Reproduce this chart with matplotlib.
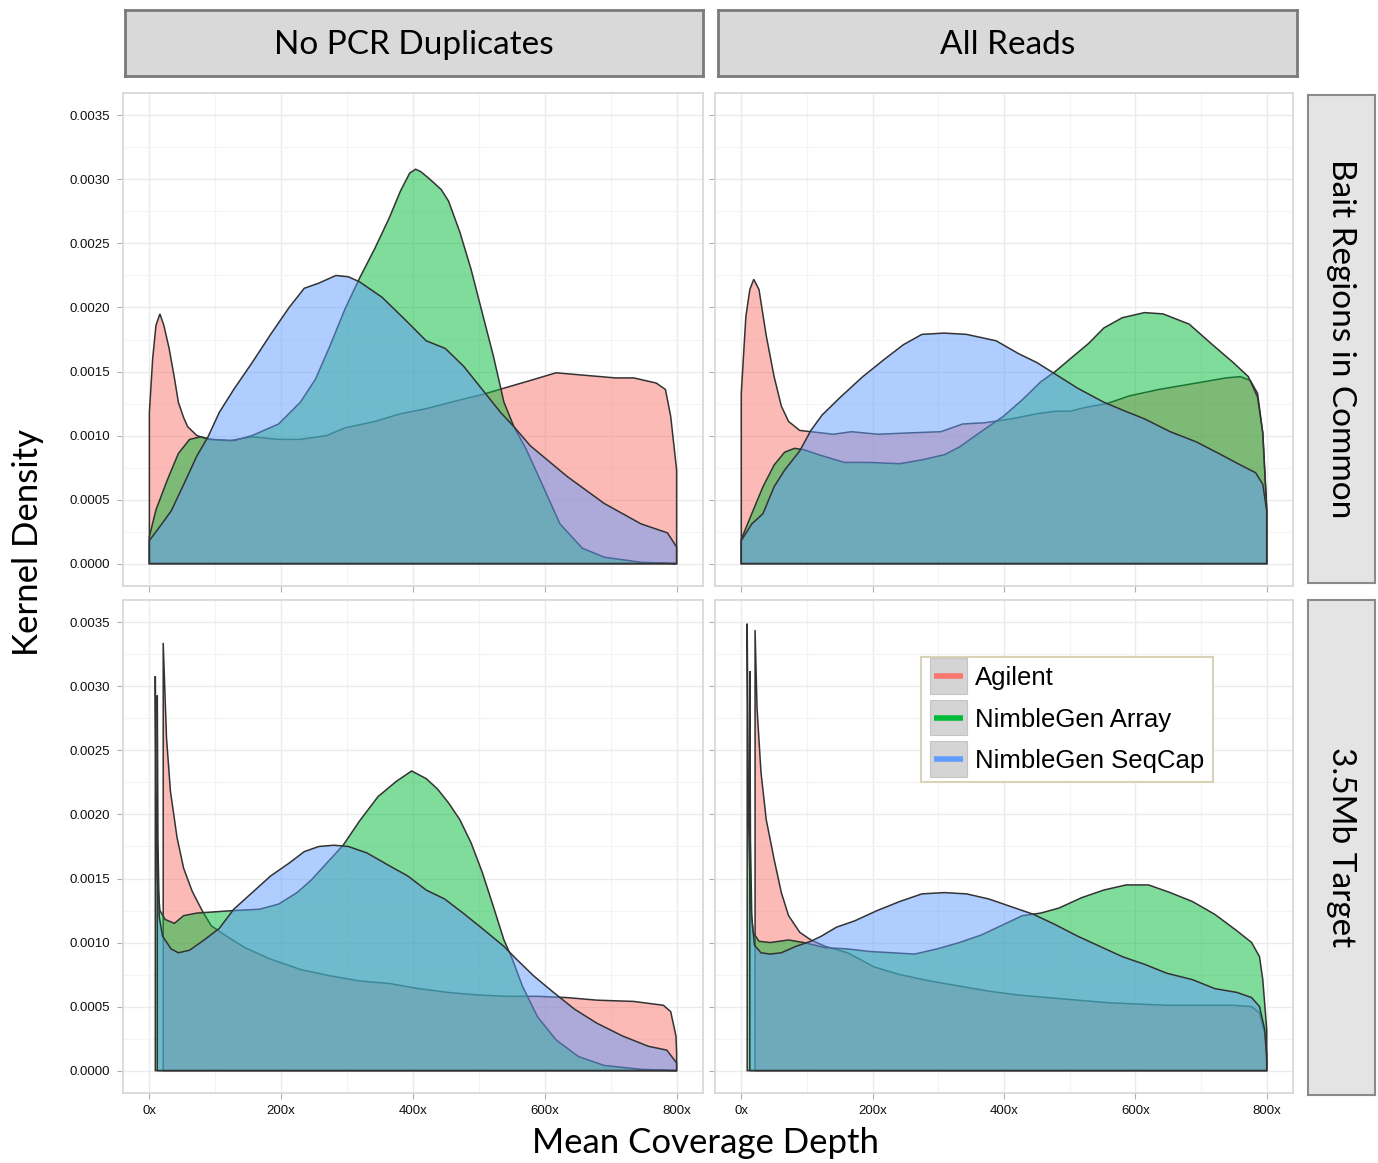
import matplotlib.pyplot as plt
from matplotlib.colors import to_rgba
from matplotlib.lines import Line2D
from matplotlib.patches import Rectangle
from matplotlib.legend_handler import HandlerBase

plt.rcParams['font.family'] = ['Liberation Sans', 'DejaVu Sans']

assays = ['Agilent', 'NimbleGen Array', 'NimbleGen SeqCap']
colors = ['#F8766D', '#00BA38', '#619CFF']
read_sets = ['No PCR Duplicates', 'All Reads']
targets = ['Bait Regions in Common', '3.5Mb Target']

x_ticks = [0, 200, 400, 600, 800]
x_labels = ['0x', '200x', '400x', '600x', '800x']
y_ticks = [0.0, 0.0005, 0.0010, 0.0015, 0.0020, 0.0025, 0.0030, 0.0035]

# --- No PCR Duplicates / Bait Regions in Common ---
nodup_bait_agilent_x = [0, 5, 10, 16, 22, 30, 38, 44, 52, 58, 66, 72, 89, 122, 156, 196, 229, 269, 297,
                        342, 381, 420, 465, 505, 538, 578, 617, 662, 707, 735, 769, 783, 791, 800]
nodup_bait_agilent_y = [0.00118, 0.00160, 0.00186, 0.00195, 0.00186, 0.00168, 0.00145, 0.00126, 0.00114,
                        0.00107, 0.00103, 0.00100, 0.00097, 0.00096, 0.00099, 0.00097, 0.00097, 0.00100,
                        0.00106, 0.00111, 0.00117, 0.00121, 0.00127, 0.00132, 0.00137, 0.00143, 0.00149,
                        0.00147, 0.00145, 0.00145, 0.00141, 0.00136, 0.00115, 0.00073]
nodup_bait_array_x = [0, 10, 27, 44, 61, 78, 94, 128, 156, 196, 229, 252, 274, 297, 319, 342, 364, 381, 395,
                      404, 412, 426, 443, 454, 471, 488, 505, 522, 538, 553, 572, 595, 623, 657, 690, 746, 800]
nodup_bait_array_y = [0.00021, 0.00042, 0.00065, 0.00086, 0.00097, 0.00099, 0.00097, 0.00096, 0.00100,
                      0.00109, 0.00126, 0.00144, 0.00170, 0.00199, 0.00223, 0.00246, 0.00270, 0.00291,
                      0.00305, 0.00308, 0.00306, 0.00300, 0.00292, 0.00283, 0.00259, 0.00230, 0.00196,
                      0.00162, 0.00126, 0.00107, 0.00089, 0.00063, 0.00031, 0.00012, 0.00005, 0.00001, 0.0]
nodup_bait_seqcap_x = [0, 16, 33, 55, 72, 89, 106, 128, 156, 184, 212, 235, 257, 283, 302, 319, 353, 387,
                       420, 449, 477, 505, 533, 553, 578, 634, 690, 746, 786, 800]
nodup_bait_seqcap_y = [0.00018, 0.00029, 0.00041, 0.00065, 0.00084, 0.00099, 0.00118, 0.00136, 0.00157,
                       0.00179, 0.00200, 0.00215, 0.00219, 0.00225, 0.00224, 0.00220, 0.00208, 0.00191,
                       0.00174, 0.00168, 0.00154, 0.00136, 0.00118, 0.00107, 0.00092, 0.00068, 0.00047,
                       0.00031, 0.00024, 0.00013]

# --- All Reads / Bait Regions in Common ---
all_bait_agilent_x = [0, 7, 13, 19, 27, 38, 50, 61, 72, 89, 106, 140, 168, 208, 253, 304, 337, 371, 411,
                      450, 478, 501, 524, 557, 591, 636, 693, 738, 760, 775, 786, 794, 800]
all_bait_agilent_y = [0.00133, 0.00193, 0.00214, 0.00222, 0.00214, 0.00178, 0.00146, 0.00123, 0.00111,
                      0.00104, 0.00103, 0.00101, 0.00103, 0.00101, 0.00102, 0.00103, 0.00109, 0.00110,
                      0.00113, 0.00117, 0.00119, 0.00119, 0.00122, 0.00125, 0.00131, 0.00136, 0.00141,
                      0.00145, 0.00146, 0.00143, 0.00133, 0.00102, 0.00044]
all_bait_array_x = [0, 16, 33, 50, 66, 81, 95, 118, 157, 196, 241, 275, 309, 332, 365, 399, 428, 456, 478,
                    501, 529, 552, 580, 614, 642, 682, 715, 749, 772, 786, 794, 800]
all_bait_array_y = [0.00019, 0.00039, 0.00060, 0.00077, 0.00087, 0.00090, 0.00089, 0.00085, 0.00079,
                    0.00079, 0.00078, 0.00081, 0.00085, 0.00091, 0.00103, 0.00115, 0.00128, 0.00142,
                    0.00150, 0.00160, 0.00172, 0.00184, 0.00192, 0.00196, 0.00195, 0.00187, 0.00172,
                    0.00157, 0.00146, 0.00130, 0.00102, 0.00041]
all_bait_seqcap_x = [0, 16, 33, 50, 66, 89, 106, 123, 151, 185, 219, 247, 275, 309, 343, 388, 422, 450,
                     478, 512, 552, 580, 614, 653, 693, 727, 760, 783, 794, 800]
all_bait_seqcap_y = [0.00018, 0.00031, 0.00039, 0.00060, 0.00073, 0.00088, 0.00104, 0.00116, 0.00130,
                     0.00146, 0.00160, 0.00171, 0.00179, 0.00180, 0.00179, 0.00174, 0.00164, 0.00157,
                     0.00148, 0.00137, 0.00126, 0.00120, 0.00113, 0.00103, 0.00095, 0.00086, 0.00077,
                     0.00071, 0.00062, 0.00041]

# --- No PCR Duplicates / 3.5Mb Target ---
nodup_target_agilent_x = [21, 26, 32, 42, 52, 65, 80, 94, 117, 145, 184, 229, 274, 319, 364, 409, 454, 499,
                          544, 589, 634, 679, 735, 780, 791, 799, 800]
nodup_target_agilent_y = [0.00334, 0.00260, 0.00218, 0.00182, 0.00158, 0.00140, 0.00125, 0.00113, 0.00105,
                          0.00096, 0.00087, 0.00079, 0.00074, 0.00070, 0.00068, 0.00064, 0.00061, 0.00059,
                          0.00058, 0.00058, 0.00057, 0.00055, 0.00054, 0.00051, 0.00046, 0.00027, 0.00014]
nodup_target_array_x = [9, 10, 12, 16, 24, 38, 52, 72, 100, 128, 167, 196, 224, 246, 269, 294, 319, 347, 375,
                        398, 420, 437, 454, 471, 488, 505, 522, 538, 550, 566, 589, 617, 651, 690, 746, 800]
nodup_target_array_y = [0.00308, 0.00220, 0.00150, 0.00125, 0.00118, 0.00115, 0.00121, 0.00123, 0.00124,
                        0.00125, 0.00126, 0.00130, 0.00139, 0.00149, 0.00162, 0.00176, 0.00195, 0.00214,
                        0.00226, 0.00234, 0.00228, 0.00220, 0.00209, 0.00196, 0.00178, 0.00155, 0.00128,
                        0.00102, 0.00088, 0.00066, 0.00042, 0.00024, 0.00011, 0.00004, 0.00001, 0.0]
nodup_target_seqcap_x = [12, 13, 15, 20, 33, 44, 61, 83, 106, 128, 156, 184, 212, 235, 257, 280, 302, 330,
                         364, 392, 420, 448, 476, 505, 538, 555, 583, 611, 645, 679, 718, 757, 785, 800]
nodup_target_seqcap_y = [0.00293, 0.00180, 0.00120, 0.00105, 0.00095, 0.00092, 0.00094, 0.00102, 0.00111,
                         0.00126, 0.00139, 0.00152, 0.00162, 0.00171, 0.00175, 0.00176, 0.00175, 0.00170,
                         0.00160, 0.00152, 0.00141, 0.00134, 0.00123, 0.00111, 0.00097, 0.00088, 0.00074,
                         0.00062, 0.00048, 0.00037, 0.00027, 0.00019, 0.00016, 0.00006]

# --- All Reads / 3.5Mb Target ---
all_target_agilent_x = [21, 24, 30, 38, 50, 61, 72, 89, 106, 128, 162, 202, 241, 287, 332, 377, 422, 467,
                        512, 558, 603, 648, 693, 749, 777, 789, 797, 800]
all_target_agilent_y = [0.00344, 0.00283, 0.00233, 0.00196, 0.00165, 0.00139, 0.00121, 0.00108, 0.00102,
                        0.00097, 0.00092, 0.00081, 0.00075, 0.00070, 0.00066, 0.00062, 0.00059, 0.00057,
                        0.00055, 0.00053, 0.00052, 0.00051, 0.00051, 0.00051, 0.00050, 0.00045, 0.00029,
                        0.00014]
all_target_array_x = [9, 11, 14, 18, 27, 44, 72, 95, 128, 162, 196, 230, 264, 298, 332, 366, 399, 428, 456,
                      484, 518, 552, 586, 620, 653, 687, 721, 755, 777, 789, 794, 800]
all_target_array_y = [0.00349, 0.00200, 0.00130, 0.00108, 0.00101, 0.00100, 0.00102, 0.00100, 0.00096,
                      0.00095, 0.00093, 0.00092, 0.00091, 0.00095, 0.00100, 0.00106, 0.00114, 0.00121,
                      0.00123, 0.00127, 0.00135, 0.00141, 0.00145, 0.00145, 0.00139, 0.00132, 0.00122,
                      0.00109, 0.00100, 0.00089, 0.00071, 0.00032]
all_target_seqcap_x = [13, 14, 16, 20, 30, 44, 61, 83, 106, 122, 145, 173, 207, 241, 275, 309, 343, 377, 411,
                       445, 478, 512, 546, 580, 614, 648, 687, 721, 755, 777, 789, 797, 800]
all_target_seqcap_y = [0.00312, 0.00180, 0.00120, 0.00098, 0.00092, 0.00091, 0.00092, 0.00097, 0.00101,
                       0.00105, 0.00112, 0.00117, 0.00125, 0.00132, 0.00138, 0.00139, 0.00138, 0.00134,
                       0.00128, 0.00122, 0.00114, 0.00105, 0.00097, 0.00089, 0.00083, 0.00076, 0.00071,
                       0.00064, 0.00061, 0.00057, 0.00050, 0.00032, 0.00008]

panels = {
    (0, 0): [(nodup_bait_agilent_x, nodup_bait_agilent_y),
             (nodup_bait_array_x, nodup_bait_array_y),
             (nodup_bait_seqcap_x, nodup_bait_seqcap_y)],
    (0, 1): [(all_bait_agilent_x, all_bait_agilent_y),
             (all_bait_array_x, all_bait_array_y),
             (all_bait_seqcap_x, all_bait_seqcap_y)],
    (1, 0): [(nodup_target_agilent_x, nodup_target_agilent_y),
             (nodup_target_array_x, nodup_target_array_y),
             (nodup_target_seqcap_x, nodup_target_seqcap_y)],
    (1, 1): [(all_target_agilent_x, all_target_agilent_y),
             (all_target_array_x, all_target_array_y),
             (all_target_seqcap_x, all_target_seqcap_y)],
}


class KeyHandler(HandlerBase):
    # grey key box with a thick coloured bar, ggplot style
    def create_artists(self, legend, orig_handle, xdescent, ydescent, width, height, fontsize, trans):
        pad = legend.labelspacing * fontsize / 2
        bg = Rectangle((-xdescent, -ydescent - pad), width, height + 2 * pad,
                       facecolor='#d4d4d4', edgecolor='#c4c4c4', lw=0.8, transform=trans)
        bar = Line2D([-xdescent + 0.12 * width, -xdescent + 0.88 * width],
                     [-ydescent + height / 2] * 2, color=orig_handle.get_color(), lw=4,
                     solid_capstyle='butt', transform=trans)
        return [bg, bar]


W, H = 1378, 1163
fig = plt.figure(figsize=(W / 100, H / 100), dpi=100)

col_x = [(123, 703), (715, 1293)]
row_y = [(93, 586), (600, 1093)]

axes = {}
for r in range(2):
    for c in range(2):
        x0, x1 = col_x[c]
        y0, y1 = row_y[r]
        ax = fig.add_axes([x0 / W, 1 - y1 / H, (x1 - x0) / W, (y1 - y0) / H])
        axes[(r, c)] = ax
        for (xs, ys), col in zip(panels[(r, c)], colors):
            px = [xs[0]] + list(xs) + [xs[-1]]
            py = [0] + list(ys) + [0]
            ax.fill(px, py, facecolor=to_rgba(col, 0.5), edgecolor='#333333', lw=1.1, zorder=2)
        ax.set_xlim(-40, 840)
        ax.set_ylim(-0.000175, 0.003675)
        ax.set_xticks(x_ticks)
        ax.set_xticks([100, 300, 500, 700], minor=True)
        ax.set_yticks(y_ticks)
        ax.set_yticks([0.00025 + 0.0005 * i for i in range(7)], minor=True)
        ax.grid(which='major', color='#ebebeb', lw=1.0, zorder=0)
        ax.grid(which='minor', color='#f4f4f4', lw=0.8, zorder=0)
        ax.set_axisbelow(True)
        for s in ax.spines.values():
            s.set_color('#d6d6d6')
            s.set_linewidth(1.2)
        ax.tick_params(which='major', length=4, width=0.8, color='#b0b0b0', labelsize=9.5,
                       labelcolor='#111111', pad=5)
        ax.tick_params(which='minor', length=0)
        if r == 1:
            ax.set_xticklabels(x_labels)
        else:
            ax.set_xticklabels([])
        if c == 0:
            ax.set_yticklabels(['%.4f' % v for v in y_ticks])
        else:
            ax.set_yticklabels([])

strip_font = ['Lato', 'DejaVu Sans']

# column strips
top_strips = [(125, 703), (718, 1297)]
for (x0, x1), name in zip(top_strips, read_sets):
    sax = fig.add_axes([x0 / W, 1 - 76 / H, (x1 - x0) / W, 66 / H])
    sax.set_facecolor('#d9d9d9')
    sax.set_xticks([])
    sax.set_yticks([])
    for s in sax.spines.values():
        s.set_color('#7a7a7a')
        s.set_linewidth(2)
    sax.text(0.5, 0.47, name, ha='center', va='center', fontsize=24, family=strip_font,
             transform=sax.transAxes)

# row strips
side_strips = [(95, 583), (600, 1095)]
for (y0, y1), name in zip(side_strips, targets):
    sax = fig.add_axes([1308 / W, 1 - y1 / H, 67 / W, (y1 - y0) / H])
    sax.set_facecolor('#e4e4e4')
    sax.set_xticks([])
    sax.set_yticks([])
    for s in sax.spines.values():
        s.set_color('#8a8a8a')
        s.set_linewidth(1.5)
    sax.text(0.5, 0.5, name, ha='center', va='center', rotation=270, fontsize=24,
             family=strip_font, transform=sax.transAxes)

fig.text(28 / W, 1 - 542 / H, 'Kernel Density', rotation=90, ha='center', va='center',
         fontsize=25, family=strip_font)
fig.text(706 / W, 1 - 1143 / H, 'Mean Coverage Depth', ha='center', va='center',
         fontsize=25, family=strip_font)

handles = [Line2D([], [], color=col) for col in colors]
leg = axes[(1, 1)].legend(handles, assays, handler_map={Line2D: KeyHandler()},
                          loc='upper left', bbox_to_anchor=(0.356, 0.884), fontsize=18.5,
                          frameon=True, fancybox=False, framealpha=1, edgecolor='#d8d3b5',
                          handlelength=1.45, handleheight=0.7, labelspacing=0.68,
                          borderpad=0.35, handletextpad=0.3, borderaxespad=0)
leg.get_frame().set_linewidth(1.5)

fig.savefig('out.png', dpi=100)
